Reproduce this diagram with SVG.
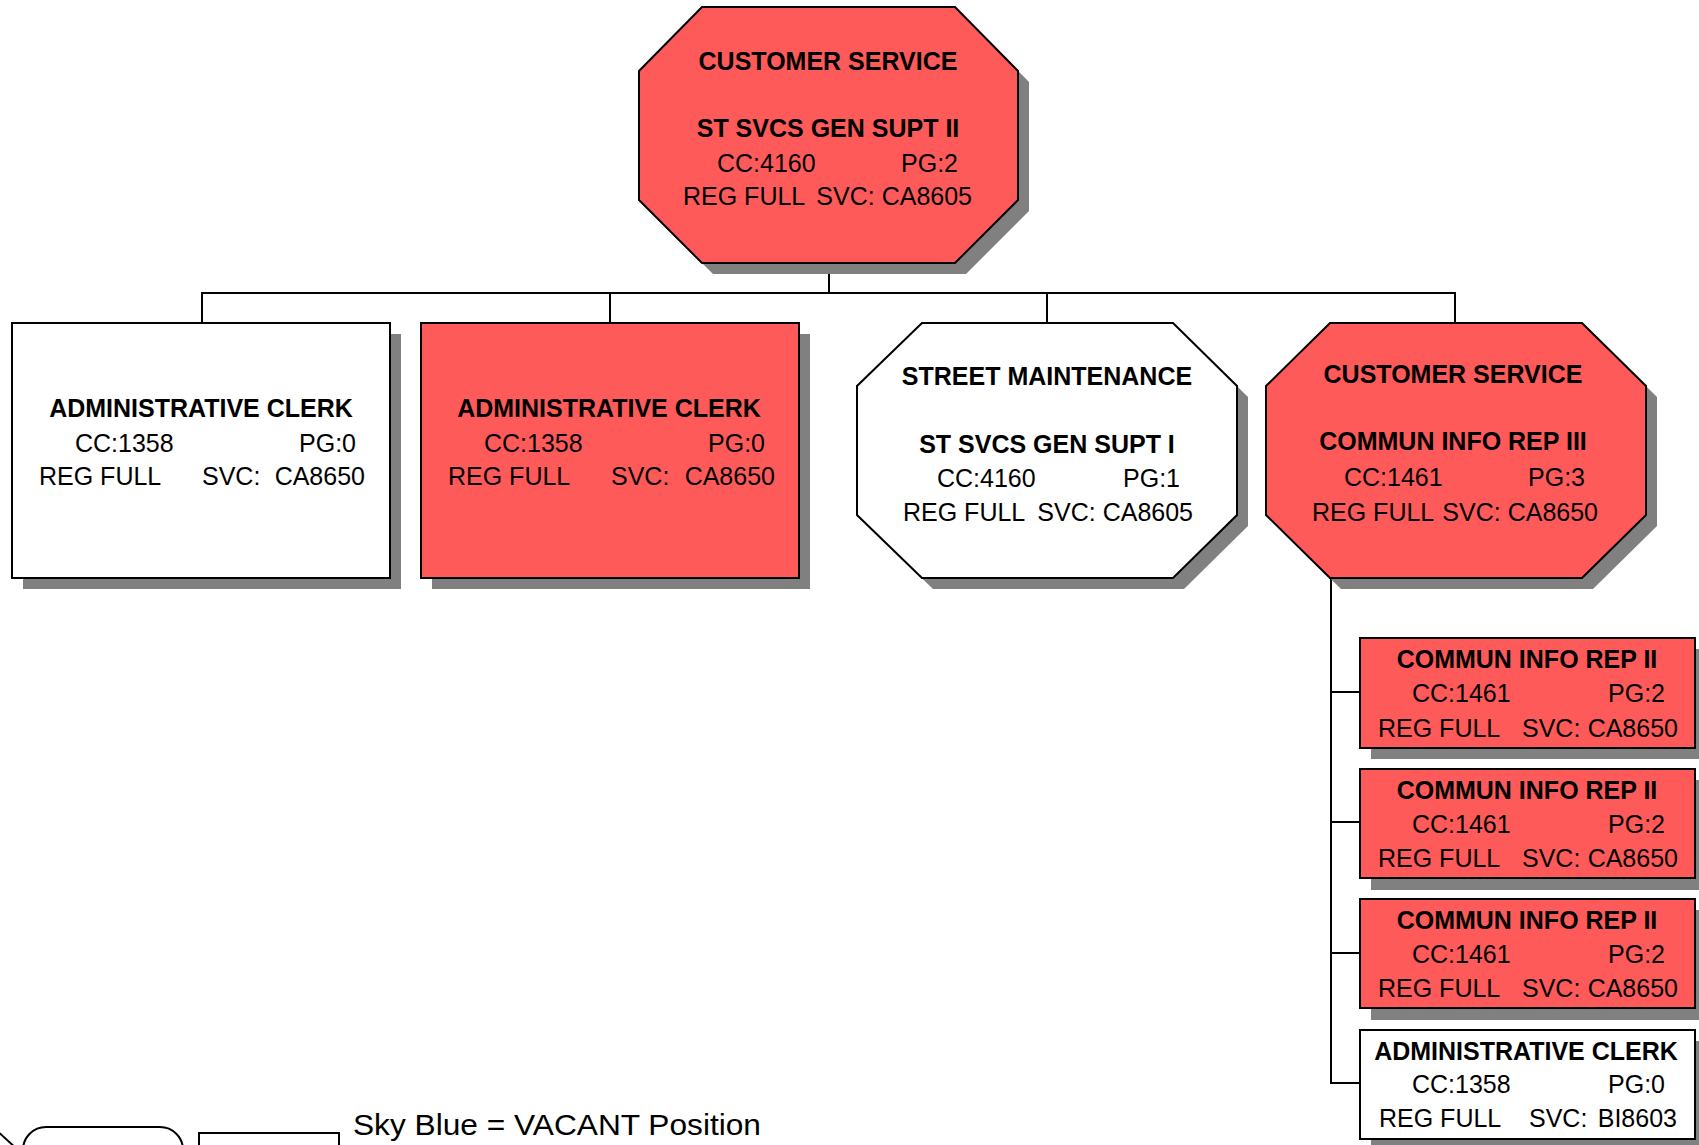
<svg xmlns="http://www.w3.org/2000/svg" width="1699" height="1145" viewBox="0 0 1699 1145">
<style>
.sh{fill:#808080;stroke:none}
.red{fill:#FF5A5A;stroke:#000;stroke-width:2}
.wht{fill:#FFFFFF;stroke:#000;stroke-width:2}
.b{font-family:"Liberation Sans",Arial,sans-serif;font-weight:bold;font-size:25px;fill:#000;text-anchor:middle}
.r{font-family:"Liberation Sans",Arial,sans-serif;font-size:25px;fill:#000}
.e{text-anchor:end}
.ln{stroke:#000;stroke-width:2;fill:none}
.leg{fill:#fff;stroke:#000;stroke-width:2}
</style>
<rect width="1699" height="1145" fill="#fff"/>
<g id="connectors">
<line class="ln" x1="829" y1="263" x2="829" y2="293"/>
<line class="ln" x1="201" y1="293" x2="1456" y2="293"/>
<line class="ln" x1="202" y1="293" x2="202" y2="323"/>
<line class="ln" x1="610" y1="293" x2="610" y2="323"/>
<line class="ln" x1="1047" y1="293" x2="1047" y2="323"/>
<line class="ln" x1="1455" y1="293" x2="1455" y2="323"/>
<line class="ln" x1="1331" y1="578" x2="1331" y2="1084"/>
<line class="ln" x1="1330" y1="692" x2="1360" y2="692"/>
<line class="ln" x1="1330" y1="822" x2="1360" y2="822"/>
<line class="ln" x1="1330" y1="953" x2="1360" y2="953"/>
<line class="ln" x1="1330" y1="1083" x2="1360" y2="1083"/>
</g>
<g id="n0">
<polygon class="sh" points="713,18 966,18 1029,82 1029,211 966,274 713,274 650,211 650,82"/>
<polygon class="red" points="702,7 955,7 1018,71 1018,200 955,263 702,263 639,200 639,71"/>
<text class="b" x="828" y="70">CUSTOMER SERVICE</text>
<text class="b" x="828" y="137">ST SVCS GEN SUPT II</text>
<text class="r" x="717" y="172">CC:4160</text>
<text class="r e" x="958" y="172">PG:2</text>
<text class="r" x="683" y="205">REG FULL</text>
<text class="r e" x="972" y="205">SVC: CA8605</text>
</g>
<g id="n1">
<rect class="sh" x="23" y="334" width="378" height="255"/>
<rect class="wht" x="12" y="323" width="378" height="255"/>
<text class="b" x="201" y="417">ADMINISTRATIVE CLERK</text>
<text class="r" x="75" y="452">CC:1358</text>
<text class="r e" x="356" y="452">PG:0</text>
<text class="r" x="39" y="485">REG FULL</text>
<text class="r" x="202" y="485">SVC:</text>
<text class="r e" x="365" y="485">CA8650</text>
</g>
<g id="n2">
<rect class="sh" x="432" y="334" width="378" height="255"/>
<rect class="red" x="421" y="323" width="378" height="255"/>
<text class="b" x="609" y="417">ADMINISTRATIVE CLERK</text>
<text class="r" x="484" y="452">CC:1358</text>
<text class="r e" x="765" y="452">PG:0</text>
<text class="r" x="448" y="485">REG FULL</text>
<text class="r" x="611" y="485">SVC:</text>
<text class="r e" x="775" y="485">CA8650</text>
</g>
<g id="n3">
<polygon class="sh" points="933,334 1184,334 1248,397 1248,526 1184,589 933,589 868,526 868,397"/>
<polygon class="wht" points="922,323 1173,323 1237,386 1237,515 1173,578 922,578 857,515 857,386"/>
<text class="b" x="1047" y="385">STREET MAINTENANCE</text>
<text class="b" x="1047" y="453">ST SVCS GEN SUPT I</text>
<text class="r" x="937" y="487">CC:4160</text>
<text class="r e" x="1180" y="487">PG:1</text>
<text class="r" x="903" y="521">REG FULL</text>
<text class="r e" x="1193" y="521">SVC: CA8605</text>
</g>
<g id="n4">
<polygon class="sh" points="1341,334 1593,334 1657,397 1657,526 1593,589 1341,589 1277,526 1277,397"/>
<polygon class="red" points="1330,323 1582,323 1646,386 1646,515 1582,578 1330,578 1266,515 1266,386"/>
<text class="b" x="1453" y="383">CUSTOMER SERVICE</text>
<text class="b" x="1453" y="450">COMMUN INFO REP III</text>
<text class="r" x="1344" y="486">CC:1461</text>
<text class="r e" x="1585" y="486">PG:3</text>
<text class="r" x="1312" y="521">REG FULL</text>
<text class="r e" x="1598" y="521">SVC: CA8650</text>
</g>
<g id="n5">
<rect class="sh" x="1371" y="649" width="335" height="110"/>
<rect class="red" x="1360" y="638" width="335" height="110"/>
<text class="b" x="1527" y="668">COMMUN INFO REP II</text>
<text class="r" x="1412" y="702">CC:1461</text>
<text class="r e" x="1665" y="702">PG:2</text>
<text class="r" x="1378" y="737">REG FULL</text>
<text class="r" x="1522" y="737">SVC:</text>
<text class="r e" x="1678" y="737">CA8650</text>
</g>
<g id="n6">
<rect class="sh" x="1371" y="780" width="335" height="110"/>
<rect class="red" x="1360" y="769" width="335" height="109"/>
<text class="b" x="1527" y="799">COMMUN INFO REP II</text>
<text class="r" x="1412" y="833">CC:1461</text>
<text class="r e" x="1665" y="833">PG:2</text>
<text class="r" x="1378" y="867">REG FULL</text>
<text class="r" x="1522" y="867">SVC:</text>
<text class="r e" x="1678" y="867">CA8650</text>
</g>
<g id="n7">
<rect class="sh" x="1371" y="910" width="335" height="110"/>
<rect class="red" x="1360" y="899" width="335" height="109"/>
<text class="b" x="1527" y="929">COMMUN INFO REP II</text>
<text class="r" x="1412" y="963">CC:1461</text>
<text class="r e" x="1665" y="963">PG:2</text>
<text class="r" x="1378" y="997">REG FULL</text>
<text class="r" x="1522" y="997">SVC:</text>
<text class="r e" x="1678" y="997">CA8650</text>
</g>
<g id="n8">
<rect class="sh" x="1371" y="1041" width="335" height="110"/>
<rect class="wht" x="1360" y="1030" width="335" height="109"/>
<text class="b" x="1526" y="1060">ADMINISTRATIVE CLERK</text>
<text class="r" x="1412" y="1093">CC:1358</text>
<text class="r e" x="1665" y="1093">PG:0</text>
<text class="r" x="1379" y="1127">REG FULL</text>
<text class="r" x="1529" y="1127">SVC:</text>
<text class="r e" x="1677" y="1127">BI8603</text>
</g>
<g id="legend">
<path class="ln" d="M-6,1128 L18,1150"/>
<rect class="leg" x="23" y="1127" width="160" height="60" rx="23" ry="23"/>
<rect class="leg" x="199" y="1133" width="140" height="40"/>
<text class="r" x="353" y="1135" style="font-size:29px" textLength="408" lengthAdjust="spacingAndGlyphs">Sky Blue = VACANT Position</text>
</g>
</svg>
